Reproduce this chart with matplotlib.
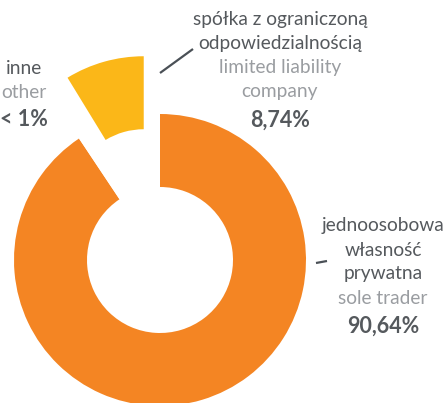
import matplotlib
matplotlib.use("Agg")
import matplotlib.pyplot as plt

# data
categories_pl = ["jednoosobowa\nwłasność\nprywatna", "inne", "spółka z ograniczoną\nodpowiedzialnością"]
categories_en = ["sole trader", "other", "limited liability\ncompany"]
values = [90.64, 0.62, 8.74]
pct_labels = ["90,64%", "< 1%", "8,74%"]
colors = ["#F48523", "#FFFFFF", "#FBB718"]

W, H = 446, 403
fig = plt.figure(figsize=(W / 100, H / 100), dpi=100)
ax = fig.add_axes([0, 0, 1, 1])

cx, cy = 160, H - 260
R = 146
ax.pie(values, colors=colors, startangle=90, counterclock=False,
       radius=R, center=(cx, cy), explode=[0, 0, 60],
       wedgeprops=dict(width=R - 73, linewidth=0))
ax.set_xlim(0, W)
ax.set_ylim(0, H)
ax.set_aspect('auto')
ax.axis('off')

dark = "#55595D"
grey = "#9A9DA1"
fam = ["Lato", "DejaVu Sans"]
fs = 13.8
lh = 24

def block(x, ytop, pl, en, pct):
    y = ytop
    for line in pl.split("\n"):
        ax.text(x, H - y, line, ha="center", va="center", color=dark,
                fontsize=fs, family=fam, fontweight="normal")
        y += lh
    for line in en.split("\n"):
        ax.text(x, H - y, line, ha="center", va="center", color=grey,
                fontsize=fs, family=fam, fontweight="normal")
        y += lh
    y += 4
    ax.text(x, H - y, pct, ha="center", va="center", color=dark,
            fontsize=15.5, family=fam, fontweight="bold")

block(383, 226, categories_pl[0], categories_en[0], pct_labels[0])
block(24, 68, categories_pl[1], categories_en[1], pct_labels[1])
block(280, 20, categories_pl[2], categories_en[2], pct_labels[2])

# leader lines
ax.plot([160, 193], [H - 73, H - 49], color="#4A5056", lw=1.6, solid_capstyle="butt")
ax.plot([316, 327], [H - 263, H - 261], color="#4A5056", lw=1.6, solid_capstyle="butt")

fig.savefig("out.png", dpi=100)
